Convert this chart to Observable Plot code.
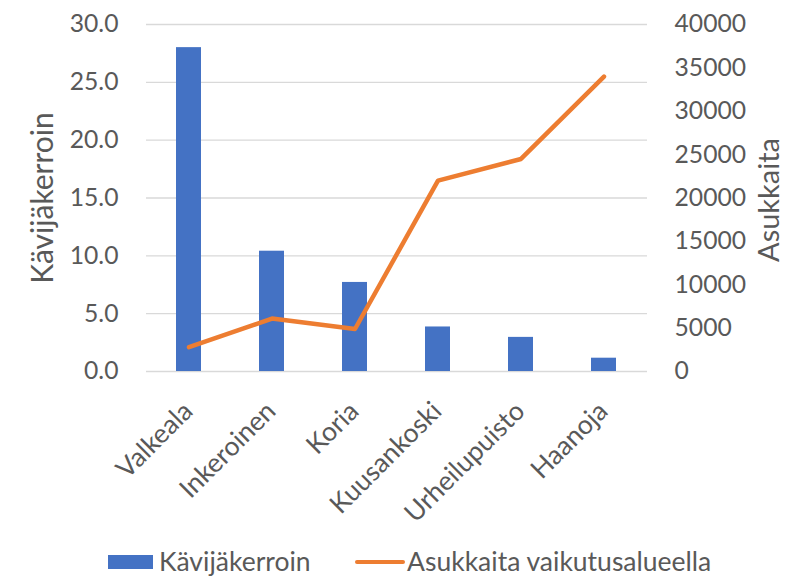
<!DOCTYPE html>
<html><head><meta charset="utf-8">
<script src="https://cdn.jsdelivr.net/npm/d3@7"></script>
<script src="https://cdn.jsdelivr.net/npm/@observablehq/plot@0.6"></script>
<style>
body{margin:0;background:#fff;font-family:Lato,sans-serif;}
#legend{position:relative;width:788px;height:32px;overflow:hidden;color:#595959;font-size:26.5px;line-height:1;}
#legend span{position:absolute;white-space:nowrap;}
</style></head><body><div id="chart"></div><div id="legend"></div>
<script>
const categories = ["Valkeala","Inkeroinen","Koria","Kuusankoski","Urheilupuisto","Haanoja"];
const kavijakerroin = [28.0,10.4,7.7,3.85,2.95,1.15];
const asukkaita = [2800,6100,4900,22000,24500,34000];
const leftTicks = [0,5,10,15,20,25,30];
const rightTicks = [0,5000,10000,15000,20000,25000,30000,35000,40000];
const seriesNames = ["Kävijäkerroin","Asukkaita vaikutusalueella"];
const axisTitles = ["Kävijäkerroin","Asukkaita"];
const colors = ["#4472C4","#ED7D31"];

const leftMax = leftTicks[leftTicks.length-1];
const rightMax = rightTicks[rightTicks.length-1];
const k = leftMax / rightMax;
const rows = categories.map((c,i)=>({cat:c, bar:kavijakerroin[i], pop:asukkaita[i]}));
const textColor = "#595959";

const chart = Plot.plot({
  width: 788, height: 545,
  marginLeft: 146, marginRight: 141, marginTop: 24, marginBottom: 174,
  style: {fontFamily: "Lato, sans-serif", fontSize: "24.7px", color: textColor, background: "#fff"},
  x: {domain: categories, paddingInner: 0.695, paddingOuter: 0.3475, axis: null},
  y: {domain: [0, leftMax], axis: null},
  marks: [
    Plot.gridY(leftTicks, {stroke: "#d9d9d9", strokeOpacity: 1, strokeWidth: 1.3}),
    Plot.axisY(leftTicks, {anchor: "left", tickSize: 0, tickPadding: 28, tickFormat: d => d.toFixed(1), fill: textColor, label: null}),
    Plot.text(rightTicks, {y: t => t*k, text: t => String(t), frameAnchor: "right", textAnchor: "start", dx: 27, fill: textColor}),
    Plot.text([axisTitles[0]], {text: d => d, frameAnchor: "left", textAnchor: "middle", rotate: -90, lineAnchor: "top", dx: -115, fontSize: 30, fill: textColor}),
    Plot.text([axisTitles[1]], {text: d => d, frameAnchor: "right", textAnchor: "middle", rotate: -90, lineAnchor: "top", dx: 111, dy: 2, fontSize: 29, fill: textColor}),
    Plot.text(categories, {x: d => d, frameAnchor: "bottom", rotate: -45, textAnchor: "end", lineAnchor: "top", dy: 28, dx: -8, fontSize: 26.5, fill: textColor}),
    Plot.barY(rows, {x: "cat", y: "bar", fill: colors[0]}),
    Plot.line(rows, {x: "cat", y: d => d.pop*k, stroke: colors[1], strokeWidth: 4.5, strokeLinejoin: "round", strokeLinecap: "round"})
  ]
});
document.getElementById("chart").appendChild(chart);

const lg = document.getElementById("legend");
lg.innerHTML =
  `<div style="position:absolute;left:108px;top:10px;width:45px;height:14px;background:${colors[0]}"></div>` +
  `<span style="left:159px;top:2.5px">${seriesNames[0]}</span>` +
  `<div style="position:absolute;left:355px;top:14.75px;width:50px;height:4.5px;border-radius:2px;background:${colors[1]}"></div>` +
  `<span style="left:407px;top:2.5px">${seriesNames[1]}</span>`;
</script></body></html>
